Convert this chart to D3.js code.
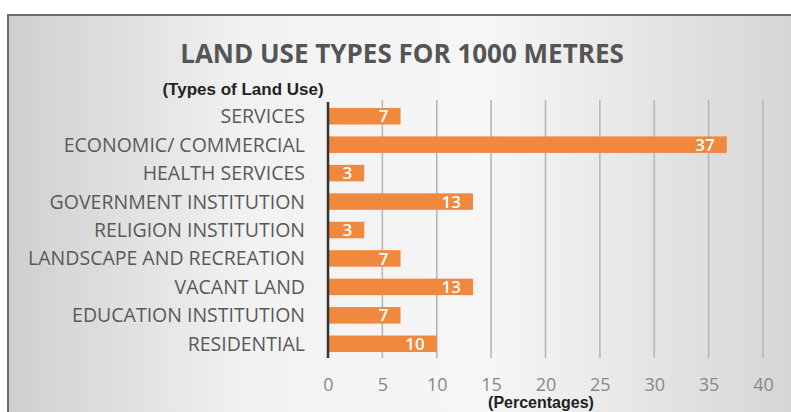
<!DOCTYPE html>
<html>
<head>
<meta charset="utf-8">
<script src="https://cdn.jsdelivr.net/npm/d3@7"></script>
<style>
  html, body { margin: 0; padding: 0; background: #fff; }
  svg { display: block; }
</style>
</head>
<body>
<svg id="chart" width="791" height="412"></svg>
<script>
// land use shares (30 sampled plots -> percent)
const categories = [
  'SERVICES', 'ECONOMIC/ COMMERCIAL', 'HEALTH SERVICES', 'GOVERNMENT INSTITUTION',
  'RELIGION INSTITUTION', 'LANDSCAPE AND RECREATION', 'VACANT LAND',
  'EDUCATION INSTITUTION', 'RESIDENTIAL'
];
const values = [6.67, 36.67, 3.33, 13.33, 3.33, 6.67, 13.33, 6.67, 10];
const xTicks = [0, 5, 10, 15, 20, 25, 30, 35, 40];

const svg = d3.select('#chart');
const defs = svg.append('defs');

// grey-white-grey slide background
const bg = defs.append('linearGradient').attr('id', 'bg');
bg.append('stop').attr('offset', '0%').attr('stop-color', '#cfcfcf');
bg.append('stop').attr('offset', '30%').attr('stop-color', '#f2f2f2');
bg.append('stop').attr('offset', '60%').attr('stop-color', '#f6f6f6');
bg.append('stop').attr('offset', '100%').attr('stop-color', '#d4d4d4');

svg.append('rect')
  .attr('x', 8).attr('y', 15)
  .attr('width', 800).attr('height', 420)
  .attr('fill', 'url(#bg)')
  .attr('stroke', '#6a6a6a')
  .attr('stroke-width', 2);

const x = d3.scaleLinear().domain([0, 40]).range([328, 763]);
const y = d3.scaleBand().domain(categories).range([102, 358]).paddingInner(0.42).paddingOuter(0.21);

// gridlines
svg.append('g')
  .selectAll('line')
  .data(xTicks.slice(1))
  .join('line')
  .attr('x1', d => x(d)).attr('x2', d => x(d))
  .attr('y1', 100).attr('y2', 358)
  .attr('stroke', '#b4b4b4')
  .attr('stroke-width', 1.5);

// bars
svg.append('g')
  .selectAll('rect')
  .data(values)
  .join('rect')
  .attr('x', x(0))
  .attr('y', (d, i) => y(categories[i]))
  .attr('width', d => x(d) - x(0))
  .attr('height', y.bandwidth())
  .attr('fill', '#f0883e');

// value labels
svg.append('g')
  .selectAll('text')
  .data(values)
  .join('text')
  .attr('x', d => x(d) - 12)
  .attr('y', (d, i) => y(categories[i]) + y.bandwidth() / 2)
  .attr('dy', '0.36em')
  .attr('text-anchor', 'end')
  .attr('font-family', 'Open Sans, sans-serif')
  .attr('font-size', 17)
  .attr('font-weight', 600)
  .attr('fill', '#fff')
  .text(d => d3.format('.0f')(d));

// y axis line
svg.append('line')
  .attr('x1', x(0)).attr('x2', x(0))
  .attr('y1', 102).attr('y2', 358)
  .attr('stroke', '#333')
  .attr('stroke-width', 2.5);

// category labels
svg.append('g')
  .selectAll('text')
  .data(categories)
  .join('text')
  .attr('x', 305)
  .attr('y', d => y(d) + y.bandwidth() / 2)
  .attr('dy', '0.36em')
  .attr('text-anchor', 'end')
  .attr('font-family', 'Open Sans, sans-serif')
  .attr('font-size', 19.5)
  .attr('fill', '#595959')
  .text(d => d);

// x tick labels
const xAxis = svg.append('g')
  .attr('transform', 'translate(0,385)')
  .call(d3.axisBottom(x).tickValues(xTicks).tickSize(0).tickPadding(0));
xAxis.select('.domain').remove();
xAxis.selectAll('text')
  .attr('dy', '0.36em')
  .attr('font-family', 'Open Sans, sans-serif')
  .attr('font-size', 18)
  .attr('fill', '#888');

// titles
svg.append('text')
  .attr('x', 402).attr('y', 63)
  .attr('text-anchor', 'middle')
  .attr('font-family', 'Open Sans, sans-serif')
  .attr('font-size', 26)
  .attr('font-weight', 'bold')
  .attr('fill', '#555')
  .text('LAND USE TYPES FOR 1000 METRES');

svg.append('text')
  .attr('x', 243).attr('y', 95)
  .attr('text-anchor', 'middle')
  .attr('font-family', 'Liberation Sans Narrow, Liberation Sans, sans-serif')
  .attr('font-size', 17)
  .attr('font-weight', 'bold')
  .attr('fill', '#222')
  .text('(Types of Land Use)');

svg.append('text')
  .attr('x', 541).attr('y', 408)
  .attr('text-anchor', 'middle')
  .attr('font-family', 'Liberation Sans Narrow, Liberation Sans, sans-serif')
  .attr('font-size', 16)
  .attr('font-weight', 'bold')
  .attr('fill', '#222')
  .text('(Percentages)');
</script>
</body>
</html>
